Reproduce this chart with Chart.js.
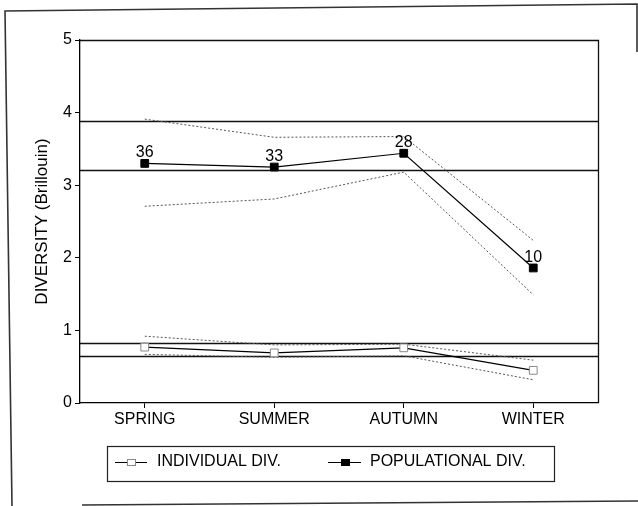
<!DOCTYPE html>
<html><head><meta charset="utf-8">
<script src="https://cdn.jsdelivr.net/npm/chart.js@4"></script>
<style>html,body{margin:0;padding:0;background:#fff}#wrap{width:638px;height:506px;position:relative}</style>
</head><body><div id="wrap"><canvas id="c" width="638" height="506"></canvas></div>
<script>
const seasons = ['SPRING', 'SUMMER', 'AUTUMN', 'WINTER'];
const popDiv = [3.30, 3.25, 3.44, 1.86];
const popUpper = [3.91, 3.66, 3.67, 2.24];
const popLower = [2.71, 2.81, 3.18, 1.49];
const popCounts = [36, 33, 28, 10];
const indDiv = [0.77, 0.69, 0.76, 0.45];
const indUpper = [0.92, 0.80, 0.81, 0.59];
const indLower = [0.67, 0.63, 0.65, 0.32];
const refLines = [3.88, 3.21, 0.82, 0.645];
const yTicks = [0, 1, 2, 3, 4, 5];
const legendLabels = ['INDIVIDUAL DIV.', 'POPULATIONAL DIV.'];
const yTitle = 'DIVERSITY (Brillouin)';

const FONT = 'Liberation Sans, Arial, Helvetica, sans-serif';
Chart.defaults.font.family = FONT;
Chart.defaults.color = '#000';

const dotted = (data) => ({
  data, borderColor: '#555', borderWidth: 1, borderDash: [2, 2],
  pointRadius: 0, fill: false, tension: 0, order: 3
});

const extras = {
  id: 'extras',
  beforeDatasetsDraw(chart) {
    const ctx = chart.ctx, a = chart.chartArea, y = chart.scales.y;
    ctx.save();
    ctx.strokeStyle = '#111';
    ctx.lineWidth = 1.3;
    refLines.forEach(v => {
      const py = Math.round(y.getPixelForValue(v)) + 0.5;
      ctx.beginPath(); ctx.moveTo(a.left, py); ctx.lineTo(a.right, py); ctx.stroke();
    });
    // top and right of plot box
    ctx.lineWidth = 1.3;
    ctx.beginPath();
    ctx.moveTo(a.left, a.top + 0.5); ctx.lineTo(a.right + 0.5, a.top + 0.5); ctx.lineTo(a.right + 0.5, a.bottom);
    ctx.stroke();
    ctx.restore();
  },
  afterDraw(chart) {
    const ctx = chart.ctx;
    const meta = chart.getDatasetMeta(5);
    ctx.save();
    // counts
    ctx.fillStyle = '#000';
    ctx.font = '16px ' + FONT;
    ctx.textAlign = 'center';
    ctx.textBaseline = 'alphabetic';
    meta.data.forEach((p, i) => {
      ctx.fillText(String(popCounts[i]), p.x, p.y - 6);
    });
    // legend box
    ctx.strokeStyle = '#222';
    ctx.lineWidth = 1.2;
    ctx.strokeRect(107.5, 446.5, 447, 35);
    const ly = 462;
    ctx.lineWidth = 1;
    ctx.strokeStyle = '#000';
    ctx.beginPath(); ctx.moveTo(115, ly + 0.5); ctx.lineTo(147, ly + 0.5); ctx.stroke();
    ctx.fillStyle = '#fff'; ctx.strokeStyle = '#888';
    ctx.fillRect(127, ly - 3, 9, 7); ctx.strokeRect(127.5, ly - 2.5, 8, 6);
    ctx.strokeStyle = '#000';
    ctx.beginPath(); ctx.moveTo(328, ly + 0.5); ctx.lineTo(361, ly + 0.5); ctx.stroke();
    ctx.fillStyle = '#000'; ctx.fillRect(341, ly - 3, 9, 7);
    ctx.font = '16px ' + FONT;
    ctx.textAlign = 'left'; ctx.textBaseline = 'middle';
    ctx.fillText(legendLabels[0], 157, ly);
    ctx.fillText(legendLabels[1], 370, ly);
    // outer frame
    ctx.strokeStyle = '#333';
    ctx.lineWidth = 1.6;
    ctx.beginPath();
    ctx.moveTo(12, 506); ctx.lineTo(5, 11); ctx.lineTo(637, 4); ctx.lineTo(637, 52);
    ctx.stroke();
    ctx.beginPath(); ctx.moveTo(82, 505); ctx.lineTo(638, 501); ctx.stroke();
    ctx.restore();
  }
};

new Chart(document.getElementById('c'), {
  type: 'line',
  data: {
    labels: seasons,
    datasets: [
      dotted(popUpper), dotted(popLower), dotted(indUpper), dotted(indLower),
      { label: legendLabels[0], data: indDiv, borderColor: '#000', borderWidth: 1.2,
        pointStyle: 'rect', pointRadius: 5.5, pointBackgroundColor: '#fff',
        pointBorderColor: '#888', pointBorderWidth: 1, tension: 0, order: 1 },
      { label: legendLabels[1], data: popDiv, borderColor: '#000', borderWidth: 1.2,
        pointStyle: 'rect', pointRadius: 5.5, pointBackgroundColor: '#000',
        pointBorderColor: '#000', pointBorderWidth: 1, tension: 0, order: 0 }
    ]
  },
  options: {
    responsive: false,
    animation: false,
    devicePixelRatio: 1,
    layout: { padding: { left: 28, right: 40, top: 40, bottom: 0 } },
    plugins: { legend: { display: false }, tooltip: { enabled: false } },
    scales: {
      x: {
        offset: true,
        afterFit(s) { s.height = 103; },
        grid: { display: true, offset: false, drawOnChartArea: false, drawTicks: true, tickLength: 5, color: '#000' },
        border: { display: true, color: '#000', width: 1.3 },
        ticks: { font: { size: 16 }, color: '#000', padding: 2, maxRotation: 0 }
      },
      y: {
        min: 0, max: 5,
        afterFit(s) { s.width = 52; },
        afterBuildTicks(s) { s.ticks = yTicks.map(v => ({ value: v })); },
        grid: { display: true, drawOnChartArea: false, drawTicks: true, tickLength: 5, color: '#000' },
        border: { display: true, color: '#000', width: 1.3 },
        ticks: { font: { size: 16 }, color: '#000', padding: 3 },
        title: { display: true, text: yTitle, font: { size: 17 }, color: '#000', padding: { top: 4, bottom: 0 } }
      }
    }
  },
  plugins: [extras]
});
</script></body></html>
